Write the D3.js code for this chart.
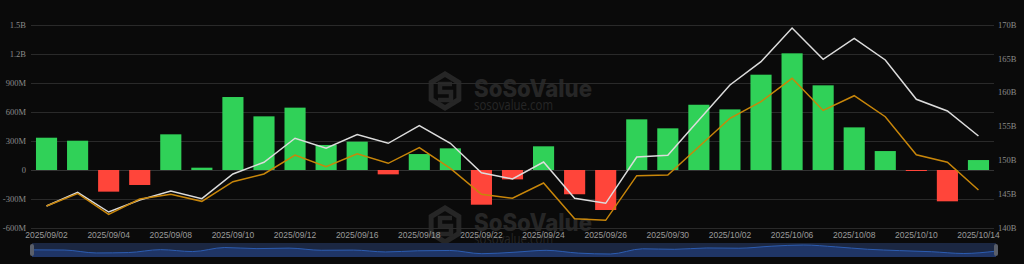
<!DOCTYPE html>
<html>
<head>
<meta charset="utf-8">
<script src="https://cdn.jsdelivr.net/npm/d3@7"></script>
<style>
  html, body { margin: 0; padding: 0; background: #0a0a0a; }
  svg { display: block; }
</style>
</head>
<body>
<svg id="chart" width="1024" height="264"></svg>
<script>
// trading days
var dates = ["2025/09/02","2025/09/03","2025/09/04","2025/09/05","2025/09/08","2025/09/09","2025/09/10","2025/09/11","2025/09/12","2025/09/15","2025/09/16","2025/09/17","2025/09/18","2025/09/19","2025/09/22","2025/09/23","2025/09/24","2025/09/25","2025/09/26","2025/09/29","2025/09/30","2025/10/01","2025/10/02","2025/10/03","2025/10/06","2025/10/07","2025/10/08","2025/10/09","2025/10/10","2025/10/13","2025/10/14"]
// daily net inflow, millions
var netInflow = [334, 303, -224, -155, 369, 24, 755, 555, 645, 259, 293, -45, 165, 224, -359, -97, 245, -251, -414, 524, 431, 675, 627, 986, 1207, 876, 441, 196, -4, -324, 103]
// total net assets, billions (white)
var totalAssets = [143.25, 145.27, 142.36, 144.14, 145.47, 144.33, 147.98, 149.71, 153.26, 151.78, 153.80, 152.52, 155.12, 152.52, 148.17, 147.24, 149.75, 144.39, 143.65, 150.49, 150.74, 155.96, 161.13, 164.58, 169.56, 164.93, 168.03, 164.83, 159.02, 157.29, 153.60]
// second asset series, billions (orange)
var otherAssets = [143.25, 145.10, 142.00, 144.29, 144.98, 143.94, 146.84, 147.98, 150.79, 149.06, 150.98, 149.56, 151.87, 148.82, 144.98, 144.39, 146.65, 141.37, 141.13, 147.73, 147.83, 152.00, 156.21, 158.68, 162.12, 157.37, 159.55, 156.45, 150.83, 149.71, 145.62]

var leftTickValues = [-600, -300, 0, 300, 600, 900, 1200, 1500]
var leftTickLabels = ["-600M", "-300M", "0", "300M", "600M", "900M", "1.2B", "1.5B"]
var rightTickValues = [140, 145, 150, 155, 160, 165, 170]
var rightTickLabels = ["140B", "145B", "150B", "155B", "160B", "165B", "170B"]

var svg = d3.select("#chart")
var plotLeft = 31, plotRight = 994, plotTop = 25, plotBottom = 228

var x = d3.scaleBand().domain(dates).range([plotLeft, plotRight]).paddingInner(0.32).paddingOuter(0.16)
var yL = d3.scaleLinear().domain([-600, 1500]).range([plotBottom, plotTop])
var yR = d3.scaleLinear().domain([140, 170]).range([plotBottom, plotTop])
var cx = d => x(d) + x.bandwidth() / 2

// watermarks
function watermark(ty) {
    var g = svg.append("g").attr("transform", "translate(0," + ty + ")").attr("fill", "#262626").attr("stroke", "none")
    var hex = d3.range(6).map(i => {
        var a = Math.PI / 3 * i - Math.PI / 2
        return [445 + 16 * Math.cos(a), 91 + 17 * Math.sin(a)]
    })
    g.append("path").attr("d", "M" + hex.join("L") + "Z")
        .attr("fill", "none").attr("stroke", "#262626").attr("stroke-width", 5)
    g.append("path").attr("d", "M452,84 L440,84 L440,92 L451,92 L451,100 L438,100")
        .attr("fill", "none").attr("stroke", "#262626").attr("stroke-width", 4.5)
    g.append("text").attr("x", 474).attr("y", 97)
        .style("font-family", "Inter, 'Open Sans', sans-serif").style("font-weight", 800)
        .style("font-size", "24px").attr("textLength", 118).attr("lengthAdjust", "spacingAndGlyphs")
        .text("SoSoValue")
    g.append("text").attr("x", 474).attr("y", 110)
        .style("font-family", "'Open Sans', sans-serif").style("font-size", "14px")
        .attr("textLength", 79).attr("lengthAdjust", "spacingAndGlyphs")
        .text("sosovalue.com")
}
watermark(0)
watermark(134)

// grid
svg.selectAll(".grid")
    .data(leftTickValues)
    .join("line")
    .attr("class", "grid")
    .attr("x1", plotLeft).attr("x2", plotRight)
    .attr("y1", d => Math.round(yL(d)) + 0.5).attr("y2", d => Math.round(yL(d)) + 0.5)
    .attr("stroke", d => d == 0 ? "#333" : "#2a2a2a")
    .attr("stroke-width", 1)

// left axis labels
svg.selectAll(".ltick")
    .data(leftTickValues)
    .join("text")
    .attr("class", "ltick")
    .attr("x", 26).attr("y", d => yL(d)).attr("dy", "0.32em")
    .attr("text-anchor", "end")
    .style("font-family", "'Liberation Serif', serif").style("font-size", "8.5px")
    .attr("fill", "#8a8a8a")
    .text((d, i) => leftTickLabels[i])

// right axis labels
svg.selectAll(".rtick")
    .data(rightTickValues)
    .join("text")
    .attr("class", "rtick")
    .attr("x", 998).attr("y", d => yR(d)).attr("dy", "0.32em")
    .style("font-family", "'Liberation Serif', serif").style("font-size", "8.5px")
    .attr("fill", "#8a8a8a")
    .text((d, i) => rightTickLabels[i])

// bars
svg.selectAll(".bar")
    .data(dates)
    .join("rect")
    .attr("class", "bar")
    .attr("x", d => x(d))
    .attr("width", x.bandwidth())
    .attr("y", (d, i) => yL(Math.max(0, netInflow[i])))
    .attr("height", (d, i) => Math.max(1, Math.abs(yL(netInflow[i]) - yL(0))))
    .attr("fill", (d, i) => netInflow[i] >= 0 ? "#30d158" : "#ff453a")

// lines
var lineW = d3.line().x((d, i) => cx(dates[i])).y(d => yR(d))
svg.append("path").datum(totalAssets)
    .attr("d", lineW).attr("fill", "none").attr("stroke", "#dcdcdc").attr("stroke-width", 1.5)
svg.append("path").datum(otherAssets)
    .attr("d", lineW).attr("fill", "none").attr("stroke", "#c8860a").attr("stroke-width", 1.5)

// x labels
svg.selectAll(".xlab")
    .data(dates.filter((d, i) => i % 2 == 0))
    .join("text")
    .attr("class", "xlab")
    .attr("x", d => cx(d)).attr("y", 237.5)
    .attr("text-anchor", "middle")
    .style("font-family", "'Liberation Sans', sans-serif").style("font-size", "8.5px")
    .attr("fill", "#9a9a9a")
    .text(d => d)

// data zoom slider
var sx = d3.scalePoint().domain(dates).range([32, 996])
var sy = d3.scaleLinear().domain(d3.extent(netInflow)).range([254, 245])
svg.append("rect").attr("x", 32).attr("y", 243).attr("width", 964).attr("height", 14).attr("fill", "#1b2742")
var area = d3.area().x((d, i) => sx(dates[i])).y0(257).y1(d => sy(d)).curve(d3.curveMonotoneX)
svg.append("path").datum(netInflow).attr("d", area).attr("fill", "#1f3566")
svg.append("path").datum(netInflow).attr("d", area.lineY1()).attr("fill", "none").attr("stroke", "#2c5cb0").attr("stroke-width", 1)
svg.selectAll(".handle")
    .data([32, 996])
    .join("rect")
    .attr("class", "handle")
    .attr("x", d => d - 2).attr("y", 244).attr("width", 4).attr("height", 12).attr("rx", 2)
    .attr("fill", "#5a5f6a")
</script>
</body>
</html>
